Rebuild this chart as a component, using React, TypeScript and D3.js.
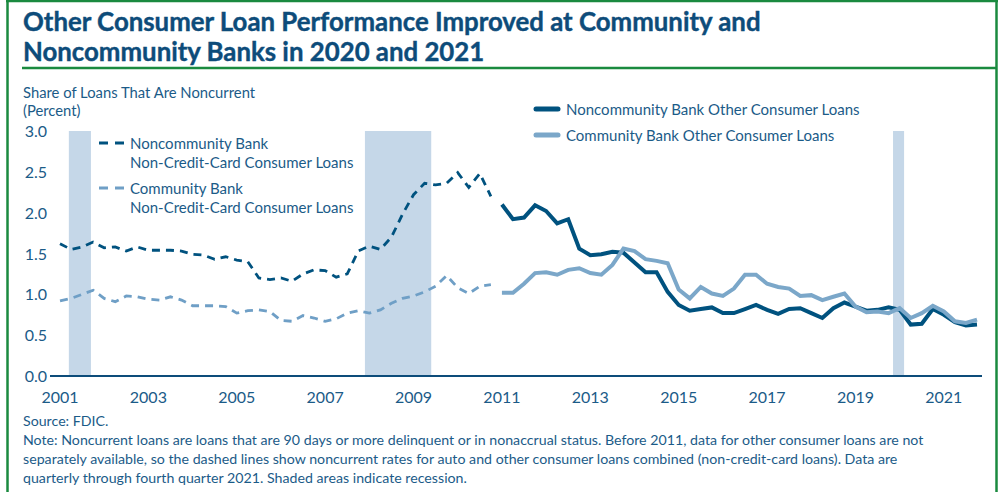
import { useEffect, useRef } from 'react';
import * as d3 from 'd3';

// Quarterly, 2001 Q1 - 2010 Q4 (non-credit-card consumer loans)
const nonCommNccStart = 2001;
const nonCommNcc = [
  1.62, 1.55, 1.58, 1.64, 1.57, 1.58, 1.53, 1.58, 1.54, 1.54,
  1.54, 1.53, 1.49, 1.48, 1.43, 1.46, 1.42, 1.40, 1.20, 1.18,
  1.20, 1.16, 1.25, 1.30, 1.29, 1.21, 1.25, 1.53, 1.59, 1.55,
  1.70, 1.98, 2.22, 2.36, 2.34, 2.36, 2.49, 2.31, 2.48, 2.20,
];
const commNcc = [
  0.92, 0.95, 1.00, 1.05, 0.95, 0.91, 0.98, 0.97, 0.94, 0.93,
  0.97, 0.93, 0.86, 0.86, 0.86, 0.85, 0.77, 0.80, 0.81, 0.79,
  0.68, 0.67, 0.74, 0.71, 0.67, 0.70, 0.77, 0.80, 0.77, 0.81,
  0.89, 0.95, 0.98, 1.03, 1.10, 1.23, 1.08, 1.01, 1.10, 1.12,
];

// Quarterly, 2011 Q1 - 2021 Q4 (other consumer loans)
const otherStart = 2011;
const nonCommOther = [
  2.10, 1.92, 1.94, 2.09, 2.02, 1.87, 1.92, 1.56, 1.48, 1.49,
  1.52, 1.51, 1.39, 1.27, 1.27, 1.03, 0.87, 0.80, 0.82, 0.84,
  0.77, 0.77, 0.82, 0.87, 0.81, 0.76, 0.82, 0.83, 0.77, 0.71,
  0.83, 0.90, 0.85, 0.80, 0.81, 0.84, 0.81, 0.63, 0.64, 0.82,
  0.75, 0.66, 0.62, 0.63,
];
const commOther = [
  1.02, 1.02, 1.13, 1.26, 1.27, 1.24, 1.30, 1.32, 1.26, 1.24,
  1.36, 1.56, 1.53, 1.43, 1.41, 1.38, 1.06, 0.95, 1.09, 1.01,
  0.98, 1.07, 1.24, 1.24, 1.13, 1.09, 1.07, 0.98, 0.99, 0.93,
  0.97, 1.01, 0.85, 0.78, 0.79, 0.77, 0.83, 0.71, 0.77, 0.86,
  0.79, 0.67, 0.65, 0.69,
];

const recessions = [[2001.2, 2001.7], [2007.9, 2009.4], [2019.85, 2020.1]];
const yTicks = [0, 0.5, 1, 1.5, 2, 2.5, 3];
const xTicks = [2001, 2003, 2005, 2007, 2009, 2011, 2013, 2015, 2017, 2019, 2021];

const titleLines = [
  'Other Consumer Loan Performance Improved at Community and',
  'Noncommunity Banks in 2020 and 2021',
];
const noteLines = [
  'Source: FDIC.',
  'Note: Noncurrent loans are loans that are 90 days or more delinquent or in nonaccrual status. Before 2011, data for other consumer loans are not',
  'separately available, so the dashed lines show noncurrent rates for auto and other consumer loans combined (non-credit-card loans). Data are',
  'quarterly through fourth quarter 2021. Shaded areas indicate recession.',
];

const darkBlue = '#00527f';
const lightBlue = '#7ba7c9';
const textBlue = '#1b5b88';
const green = '#1a8a3f';
const font = 'Lato, "Noto Sans", sans-serif';

function toPoints(values: number[], start: number) {
  return values.map((v, i) => ({ t: start + i / 4, v }));
}

export default function App() {
  const ref = useRef<SVGSVGElement>(null);

  useEffect(() => {
    document.body.style.margin = '0';
    const svg = d3.select(ref.current);
    svg.selectAll('*').remove();

    const x = d3.scaleLinear().domain([2001, 2021.75]).range([60, 977]);
    const y = d3.scaleLinear().domain([0, 3]).range([376, 131]);

    // frame
    svg.append('line').attr('x1', 7.5).attr('x2', 7.5).attr('y1', 0).attr('y2', 492)
      .attr('stroke', green).attr('stroke-width', 2.5);
    svg.append('line').attr('x1', 996.5).attr('x2', 996.5).attr('y1', 0).attr('y2', 492)
      .attr('stroke', green).attr('stroke-width', 2.5);
    svg.append('line').attr('x1', 6).attr('x2', 998).attr('y1', 1).attr('y2', 1)
      .attr('stroke', green).attr('stroke-width', 2.5);
    svg.append('line').attr('x1', 22).attr('x2', 996).attr('y1', 68).attr('y2', 68)
      .attr('stroke', green).attr('stroke-width', 2.5);

    // title
    svg.selectAll('.title')
      .data(titleLines)
      .join('text')
      .attr('x', 23)
      .attr('y', (d, i) => 31 + i * 30)
      .attr('font-family', font)
      .attr('font-weight', 'bold')
      .attr('font-size', 25.8)
      .attr('fill', '#0d4c7a')
      .attr('stroke', '#0d4c7a')
      .attr('stroke-width', 0.4)
      .text(d => d);

    // y axis title
    svg.selectAll('.ytitle')
      .data(['Share of Loans That Are Noncurrent', '(Percent)'])
      .join('text')
      .attr('x', 23)
      .attr('y', (d, i) => 98 + i * 18)
      .attr('font-family', font)
      .attr('font-size', 14.8)
      .attr('fill', textBlue)
      .text(d => d);

    // recessions
    svg.append('g')
      .selectAll('rect')
      .data(recessions)
      .join('rect')
      .attr('x', d => x(d[0]))
      .attr('width', d => x(d[1]) - x(d[0]))
      .attr('y', y(3))
      .attr('height', y(0) - y(3))
      .attr('fill', '#c5d7e8');

    // y ticks
    svg.append('g')
      .selectAll('text')
      .data(yTicks)
      .join('text')
      .attr('x', 47)
      .attr('y', d => y(d) + 6)
      .attr('text-anchor', 'end')
      .attr('font-family', font)
      .attr('font-size', 16)
      .attr('fill', textBlue)
      .text(d => d.toFixed(1));

    // x ticks
    svg.append('g')
      .selectAll('text')
      .data(xTicks)
      .join('text')
      .attr('x', d => x(d))
      .attr('y', 403)
      .attr('text-anchor', 'middle')
      .attr('font-family', font)
      .attr('font-size', 16)
      .attr('fill', textBlue)
      .text(d => String(d));

    const line = d3.line<{ t: number; v: number }>()
      .x(d => x(d.t))
      .y(d => y(d.v));

    const series = [
      { data: toPoints(nonCommNcc, nonCommNccStart), color: darkBlue, width: 2.8, dash: '8,6' },
      { data: toPoints(commNcc, nonCommNccStart), color: '#6f9fc6', width: 2.8, dash: '8,6' },
      { data: toPoints(nonCommOther, otherStart), color: darkBlue, width: 4, dash: null },
      { data: toPoints(commOther, otherStart), color: lightBlue, width: 4, dash: null },
    ];

    series.forEach(s => {
      svg.append('path')
        .attr('d', line(s.data))
        .attr('fill', 'none')
        .attr('stroke', s.color)
        .attr('stroke-width', s.width)
        .attr('stroke-dasharray', s.dash)
        .attr('stroke-linejoin', 'miter');
    });

    // x axis line
    svg.append('line')
      .attr('x1', 50).attr('x2', 982)
      .attr('y1', y(0)).attr('y2', y(0))
      .attr('stroke', '#0d4c7a').attr('stroke-width', 2);

    // dashed legend
    const dashLegend = [
      { label: ['Noncommunity Bank', 'Non-Credit-Card Consumer Loans'], color: darkBlue, y: 143 },
      { label: ['Community Bank', 'Non-Credit-Card Consumer Loans'], color: '#6f9fc6', y: 188 },
    ];
    dashLegend.forEach(l => {
      svg.append('line').attr('x1', 99).attr('x2', 126).attr('y1', l.y).attr('y2', l.y)
        .attr('stroke', l.color).attr('stroke-width', 3).attr('stroke-dasharray', '9,7');
      l.label.forEach((t, i) => {
        svg.append('text').attr('x', 130).attr('y', l.y + 6 + i * 19)
          .attr('font-family', font).attr('font-size', 15).attr('fill', textBlue).text(t);
      });
    });

    // solid legend
    const solidLegend = [
      { label: 'Noncommunity Bank Other Consumer Loans', color: darkBlue, y: 109 },
      { label: 'Community Bank Other Consumer Loans', color: lightBlue, y: 135 },
    ];
    solidLegend.forEach(l => {
      svg.append('line').attr('x1', 536).attr('x2', 558).attr('y1', l.y).attr('y2', l.y)
        .attr('stroke', l.color).attr('stroke-width', 5).attr('stroke-linecap', 'round');
      svg.append('text').attr('x', 566).attr('y', l.y + 6)
        .attr('font-family', font).attr('font-size', 15).attr('fill', textBlue).text(l.label);
    });

    // notes
    svg.selectAll('.note')
      .data(noteLines)
      .join('text')
      .attr('x', 23)
      .attr('y', (d, i) => 426 + i * 19)
      .attr('font-family', font)
      .attr('font-size', 14.2)
      .attr('fill', textBlue)
      .text(d => d);
  }, []);

  return (
    <svg ref={ref} width={1000} height={492}
      style={{ display: 'block', position: 'absolute', left: 0, top: 0, background: '#fff' }} />
  );
}
